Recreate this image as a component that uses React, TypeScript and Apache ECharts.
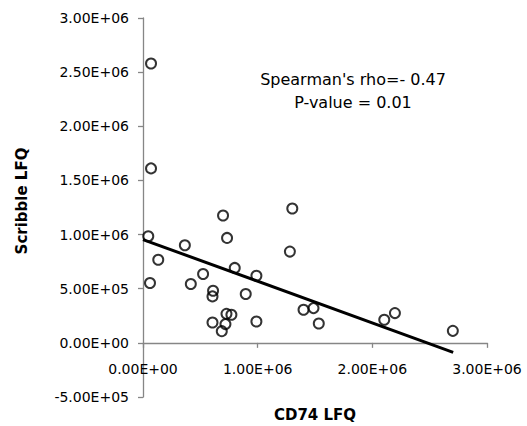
import React, { useEffect, useRef } from "react";
import * as echarts from "echarts";

const cd74: number[] = [
  70000, 70000, 46000, 61000, 133000, 365000, 417000, 524000, 611000, 606000,
  606000, 698000, 733000, 728000, 771000, 719000, 687000, 800000, 896000, 989000,
  989000, 1302000, 1281000, 1400000, 1487000, 1533000, 2104000, 2197000, 2702000,
];
const scribble: number[] = [
  2580000, 1611000, 984000, 553000, 768000, 901000, 543000, 636000, 481000, 429000,
  188000, 1176000, 969000, 268000, 259000, 173000, 108000, 692000, 451000, 620000,
  197000, 1241000, 843000, 306000, 321000, 179000, 213000, 275000, 111000,
];
const trendX: number[] = [0, 2705000];
const trendY: number[] = [954000, -88000];
const annotation: string[] = ["Spearman's rho=- 0.47", "P-value = 0.01"];
const xTitle = "CD74 LFQ";
const yTitle = "Scribble LFQ";

const sci = (v: number): string => {
  if (v === 0) return "0.00E+00";
  const sign = v < 0 ? "-" : "";
  const a = Math.abs(v);
  let e = Math.floor(Math.log10(a));
  let m = a / Math.pow(10, e);
  if (Number(m.toFixed(2)) >= 10) {
    e += 1;
    m = a / Math.pow(10, e);
  }
  const es = (e < 0 ? "-" : "+") + String(Math.abs(e)).padStart(2, "0");
  return sign + m.toFixed(2) + "E" + es;
};

const FONT = "DejaVu Sans";
const AXIS_GRAY = "#868686";

export default function App() {
  const ref = useRef<HTMLDivElement>(null);
  useEffect(() => {
    if (!ref.current) return;
    const chart = echarts.init(ref.current, undefined, { renderer: "svg" });
    chart.setOption({
      animation: false,
      backgroundColor: "#ffffff",
      grid: { left: 143, right: 40, top: 18, bottom: 29, containLabel: false, outerBoundsMode: "none" },
      xAxis: {
        type: "value",
        min: 0,
        max: 3000000,
        interval: 1000000,
        axisLine: { show: true, onZero: true, lineStyle: { color: AXIS_GRAY, width: 1.3 } },
        axisTick: { show: true, length: 5, lineStyle: { color: AXIS_GRAY, width: 1.3 } },
        axisLabel: { formatter: sci, fontFamily: FONT, fontSize: 14, color: "#000", margin: -35, hideOverlap: false },
        splitLine: { show: false },
      },
      yAxis: {
        type: "value",
        min: -500000,
        max: 3000000,
        interval: 500000,
        axisLine: { show: true, onZero: false, lineStyle: { color: AXIS_GRAY, width: 1.3 } },
        axisTick: { show: true, length: 5, lineStyle: { color: AXIS_GRAY, width: 1.3 } },
        axisLabel: { formatter: sci, fontFamily: FONT, fontSize: 14, color: "#000", margin: 14 },
        splitLine: { show: false },
      },
      graphic: [
        {
          type: "text",
          x: 353,
          y: 68,
          style: {
            text: annotation.join("\n"),
            fontFamily: FONT,
            fontSize: 16,
            lineHeight: 23,
            fill: "#000",
            align: "center",
          },
        },
        {
          type: "text",
          x: 315,
          y: 415,
          style: {
            text: xTitle,
            fontFamily: FONT,
            fontSize: 15,
            fontWeight: "bold",
            fill: "#000",
            align: "center",
            verticalAlign: "middle",
          },
        },
        {
          type: "text",
          x: 22,
          y: 201,
          rotation: Math.PI / 2,
          style: {
            text: yTitle,
            fontFamily: FONT,
            fontSize: 15,
            fontWeight: "bold",
            fill: "#000",
            align: "center",
            verticalAlign: "middle",
          },
        },
      ],
      series: [
        {
          type: "scatter",
          data: cd74.map((x, i) => [x, scribble[i]]),
          symbol: "circle",
          symbolSize: 10,
          itemStyle: { color: "rgba(255,255,255,0)", borderColor: "#000", borderWidth: 2 },
          z: 2,
        },
        {
          type: "line",
          data: trendX.map((x, i) => [x, trendY[i]]),
          showSymbol: false,
          symbol: "none",
          lineStyle: { color: "#000", width: 3 },
          z: 3,
        },
      ],
    });
    return () => chart.dispose();
  }, []);
  return (
    <div
      ref={ref}
      style={{ position: "fixed", left: 0, top: 0, width: 527, height: 426, background: "#fff" }}
    />
  );
}
